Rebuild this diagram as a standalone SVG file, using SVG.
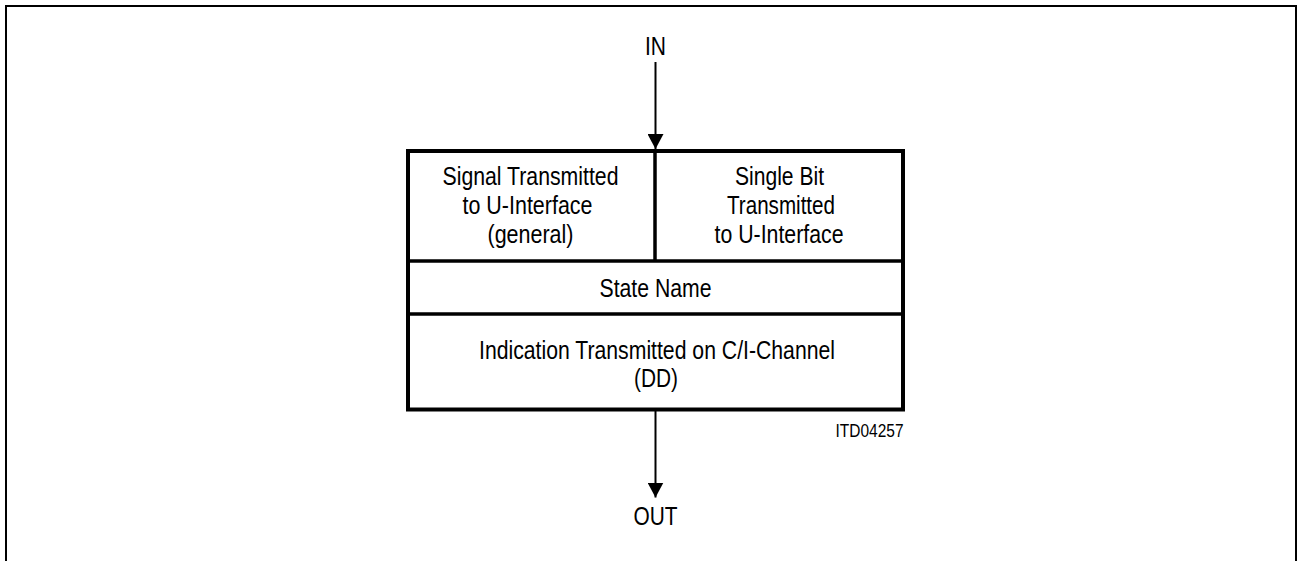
<svg xmlns="http://www.w3.org/2000/svg" width="1297" height="561" viewBox="0 0 1297 561">
  <style>
    .t { font-family: "Liberation Sans", Arial, sans-serif; font-size: 25.6px; fill: #000; text-anchor: middle; }
    .s { font-family: "Liberation Sans", Arial, sans-serif; font-size: 18.5px; fill: #000; text-anchor: end; }
    .frame { fill: none; stroke: #000; stroke-width: 2; }
    .box { fill: #fff; stroke: #000; stroke-width: 4; }
    .div { fill: none; stroke: #000; stroke-width: 3.5; }
    .conn { fill: none; stroke: #000; stroke-width: 2; }
  </style>
  <defs>
    <marker id="arr" markerUnits="userSpaceOnUse" markerWidth="16" markerHeight="16" refX="15" refY="8" orient="auto">
      <path d="M0,0 L15,8 L0,16 Z" fill="#000"/>
    </marker>
  </defs>
  <rect width="1297" height="561" fill="#fff"/>
  <path class="frame" d="M6,562 V6 H1296 V562"/>

  <g id="connectors">
    <line class="conn" x1="655.5" y1="62" x2="655.5" y2="149" marker-end="url(#arr)"/>
    <line class="conn" x1="655.5" y1="411" x2="655.5" y2="497.5" marker-end="url(#arr)"/>
  </g>

  <g id="node-in">
    <text class="t" x="655.5" y="55" textLength="21" lengthAdjust="spacingAndGlyphs">IN</text>
  </g>

  <g id="node-table">
    <rect class="box" x="408" y="151" width="495" height="258.5"/>
    <line class="div" x1="655" y1="151" x2="655" y2="261"/>
    <line class="div" x1="408" y1="261" x2="903" y2="261"/>
    <line class="div" x1="408" y1="314" x2="903" y2="314"/>
    <g id="cell-signal">
      <text class="t" x="530.5" y="185" textLength="176" lengthAdjust="spacingAndGlyphs">Signal Transmitted</text>
      <text class="t" x="527.5" y="214" textLength="130" lengthAdjust="spacingAndGlyphs">to U-Interface</text>
      <text class="t" x="530.5" y="242.5" textLength="86" lengthAdjust="spacingAndGlyphs">(general)</text>
    </g>
    <g id="cell-bit">
      <text class="t" x="779.5" y="185" textLength="89" lengthAdjust="spacingAndGlyphs">Single Bit</text>
      <text class="t" x="781" y="214" textLength="108" lengthAdjust="spacingAndGlyphs">Transmitted</text>
      <text class="t" x="779" y="243" textLength="129" lengthAdjust="spacingAndGlyphs">to U-Interface</text>
    </g>
    <g id="cell-state">
      <text class="t" x="655.5" y="297" textLength="112" lengthAdjust="spacingAndGlyphs">State Name</text>
    </g>
    <g id="cell-indication">
      <text class="t" x="657" y="358.5" textLength="356" lengthAdjust="spacingAndGlyphs">Indication Transmitted on C/I-Channel</text>
      <text class="t" x="656" y="387" textLength="44" lengthAdjust="spacingAndGlyphs">(DD)</text>
    </g>
  </g>

  <g id="node-out">
    <text class="t" x="655.5" y="525" textLength="44" lengthAdjust="spacingAndGlyphs">OUT</text>
  </g>

  <g id="label-id">
    <text class="s" x="903.5" y="436.5" textLength="68" lengthAdjust="spacingAndGlyphs">ITD04257</text>
  </g>
</svg>
